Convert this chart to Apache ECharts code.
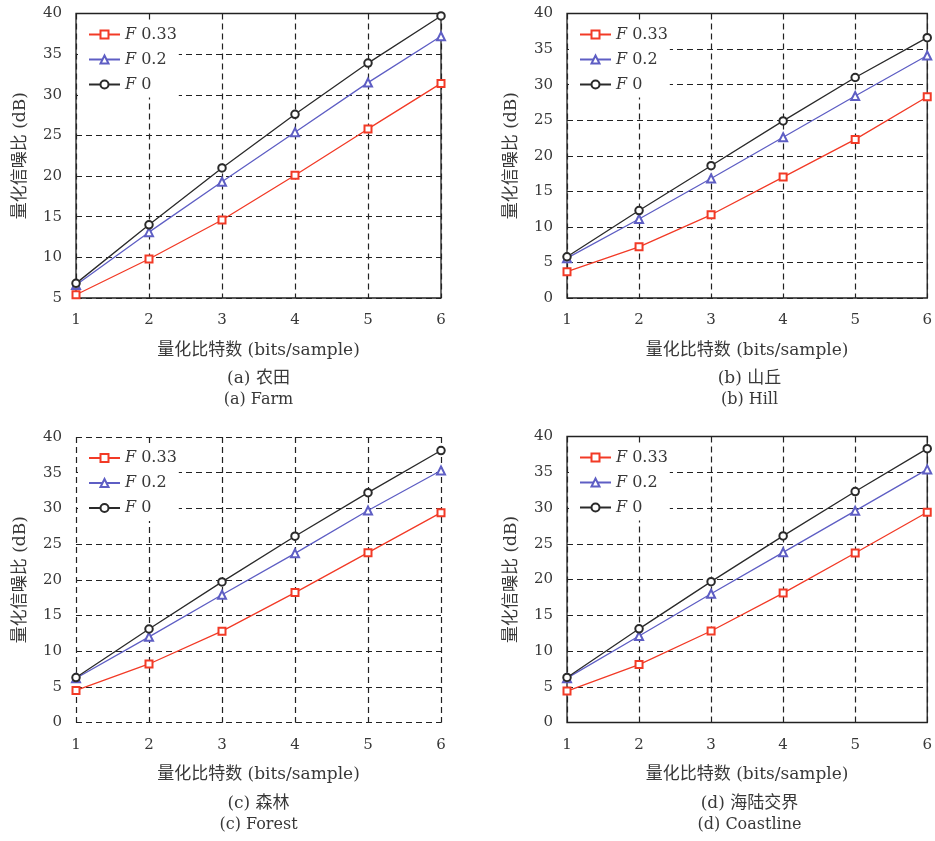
<!DOCTYPE html>
<html>
<head>
<meta charset="utf-8">
<script src="https://cdn.jsdelivr.net/npm/echarts@6/dist/echarts.min.js"></script>
<style>
  html, body { margin: 0; padding: 0; background: #fff; }
  #chart { width: 935px; height: 841px; }
</style>
</head>
<body>
<div id="chart"></div>
<script>
// Quantization bits per sample
const bits = [1, 2, 3, 4, 5, 6];

// Series names (F factor)
const seriesNames = ['F 0.33', 'F 0.2', 'F 0'];

// Quantization SNR (dB) — Farm
const farmF033 = [5.4, 9.8, 14.6, 20.1, 25.8, 31.4];
const farmF02  = [6.6, 13.1, 19.3, 25.4, 31.5, 37.2];
const farmF0   = [6.8, 14.0, 21.0, 27.6, 33.9, 39.7];

// Hill
const hillF033 = [3.7, 7.2, 11.7, 17.0, 22.3, 28.3];
const hillF02  = [5.6, 11.1, 16.8, 22.6, 28.4, 34.1];
const hillF0   = [5.8, 12.3, 18.6, 24.9, 31.0, 36.6];

// Forest
const forestF033 = [4.5, 8.2, 12.8, 18.2, 23.8, 29.4];
const forestF02  = [6.2, 12.0, 17.9, 23.7, 29.7, 35.3];
const forestF0   = [6.3, 13.1, 19.7, 26.1, 32.2, 38.1];

// Coastline
const coastF033 = [4.4, 8.1, 12.8, 18.1, 23.7, 29.4];
const coastF02  = [6.2, 12.1, 18.0, 23.8, 29.6, 35.4];
const coastF0   = [6.3, 13.1, 19.7, 26.1, 32.3, 38.3];

// Axis ranges
const yRangeFarm = [5, 40];
const yRangeOther = [0, 40];

// Captions
const captionsZh = ['(a) 农田', '(b) 山丘', '(c) 森林', '(d) 海陆交界'];
const captionsEn = ['(a) Farm', '(b) Hill', '(c) Forest', '(d) Coastline'];

const xName = '量化比特数 (bits/sample)';
const yName = '量化信噪比 (dB)';

const SERIF = '"DejaVu Serif", "Noto Sans CJK SC", serif';
const TEXT = '#383838';

const panels = [
  { data: [farmF033, farmF02, farmF0], yr: yRangeFarm, frame: true,
    grid: { left: 76, top: 13.5, width: 365, height: 284.5 } },
  { data: [hillF033, hillF02, hillF0], yr: yRangeOther, frame: true,
    grid: { left: 567, top: 13.5, width: 365, height: 284.5 } },
  { data: [forestF033, forestF02, forestF0], yr: yRangeOther, frame: false,
    grid: { left: 76, top: 437, width: 365, height: 285.5 } },
  { data: [coastF033, coastF02, coastF0], yr: yRangeOther, frame: true,
    grid: { left: 567, top: 436.5, width: 365, height: 286 } }
];

const seriesStyle = [
  { color: '#f23a26', symbol: 'emptyRect', size: 7 },
  { color: '#5e5ec4', symbol: 'emptyTriangle', size: 8 },
  { color: '#2a2a2a', symbol: 'emptyCircle', size: 7.5 }
];

const dash = [6, 4];

const option = {
  backgroundColor: '#fff',
  animation: false,
  grid: [], xAxis: [], yAxis: [], series: [], legend: [], graphic: []
};

panels.forEach((p, i) => {
  option.grid.push(Object.assign({
    show: true,
    backgroundColor: 'transparent',
    borderColor: p.frame ? '#222' : 'transparent',
    borderWidth: p.frame ? 1.3 : 0
  }, p.grid));

  option.xAxis.push({
    type: 'value', gridIndex: i, min: 1, max: 6, interval: 1,
    axisLine: { show: false },
    axisTick: { show: true, inside: true, length: 4, lineStyle: { color: '#222' } },
    axisLabel: { fontFamily: SERIF, fontSize: 15, color: TEXT, margin: 15 },
    splitLine: { show: true, showMinLine: true, showMaxLine: true,
      lineStyle: { color: '#222', type: dash, width: 1.2 } },
    name: xName, nameLocation: 'middle', nameGap: 44,
    nameTextStyle: { fontFamily: SERIF, fontSize: 17, color: TEXT }
  });

  option.yAxis.push({
    type: 'value', gridIndex: i, min: p.yr[0], max: p.yr[1], interval: 5,
    axisLine: { show: false },
    axisTick: { show: true, inside: true, length: 4, lineStyle: { color: '#222' } },
    axisLabel: { fontFamily: SERIF, fontSize: 15, color: TEXT, margin: 14 },
    splitLine: { show: true, showMinLine: true, showMaxLine: true,
      lineStyle: { color: '#222', type: dash, width: 1.2 } },
    name: yName, nameLocation: 'middle', nameGap: 47, nameRotate: 90,
    nameTextStyle: { fontFamily: SERIF, fontSize: 17, color: TEXT }
  });

  p.data.forEach((vals, k) => {
    const st = seriesStyle[k];
    option.series.push({
      type: 'line', name: seriesNames[k],
      xAxisIndex: i, yAxisIndex: i,
      data: bits.map((b, j) => [b, vals[j]]),
      symbol: st.symbol, symbolSize: st.size, clip: false,
      lineStyle: { color: st.color, width: 1.3 },
      itemStyle: { color: st.color, borderWidth: 1.2 },
      z: 3 + k
    });
  });

  option.legend.push({
    data: seriesNames.slice(),
    orient: 'vertical',
    left: p.grid.left + 2, top: p.grid.top + 7,
    padding: [6, 2, 5, 10],
    backgroundColor: '#fff',
    itemWidth: 31, itemHeight: 10, itemGap: 9,
    selectedMode: false,
    formatter: n => '{i|F}' + n.slice(1),
    textStyle: {
      fontFamily: SERIF, fontSize: 16, color: TEXT,
      rich: { i: { fontFamily: SERIF, fontSize: 16, fontStyle: 'italic', color: TEXT } }
    }
  });

  const cx = p.grid.left + p.grid.width / 2;
  const baseY = p.grid.top + p.grid.height;
  option.graphic.push({
    type: 'text', x: cx, y: baseY + 81,
    style: { text: captionsZh[i], fontFamily: SERIF, fontSize: 17, fill: TEXT,
      align: 'center', verticalAlign: 'middle' }
  });
  option.graphic.push({
    type: 'text', x: cx, y: baseY + 102,
    style: { text: captionsEn[i], fontFamily: SERIF, fontSize: 16, fill: TEXT,
      align: 'center', verticalAlign: 'middle' }
  });
});

const chart = echarts.init(document.getElementById('chart'), null, { renderer: 'canvas' });
chart.setOption(option);
</script>
</body>
</html>
